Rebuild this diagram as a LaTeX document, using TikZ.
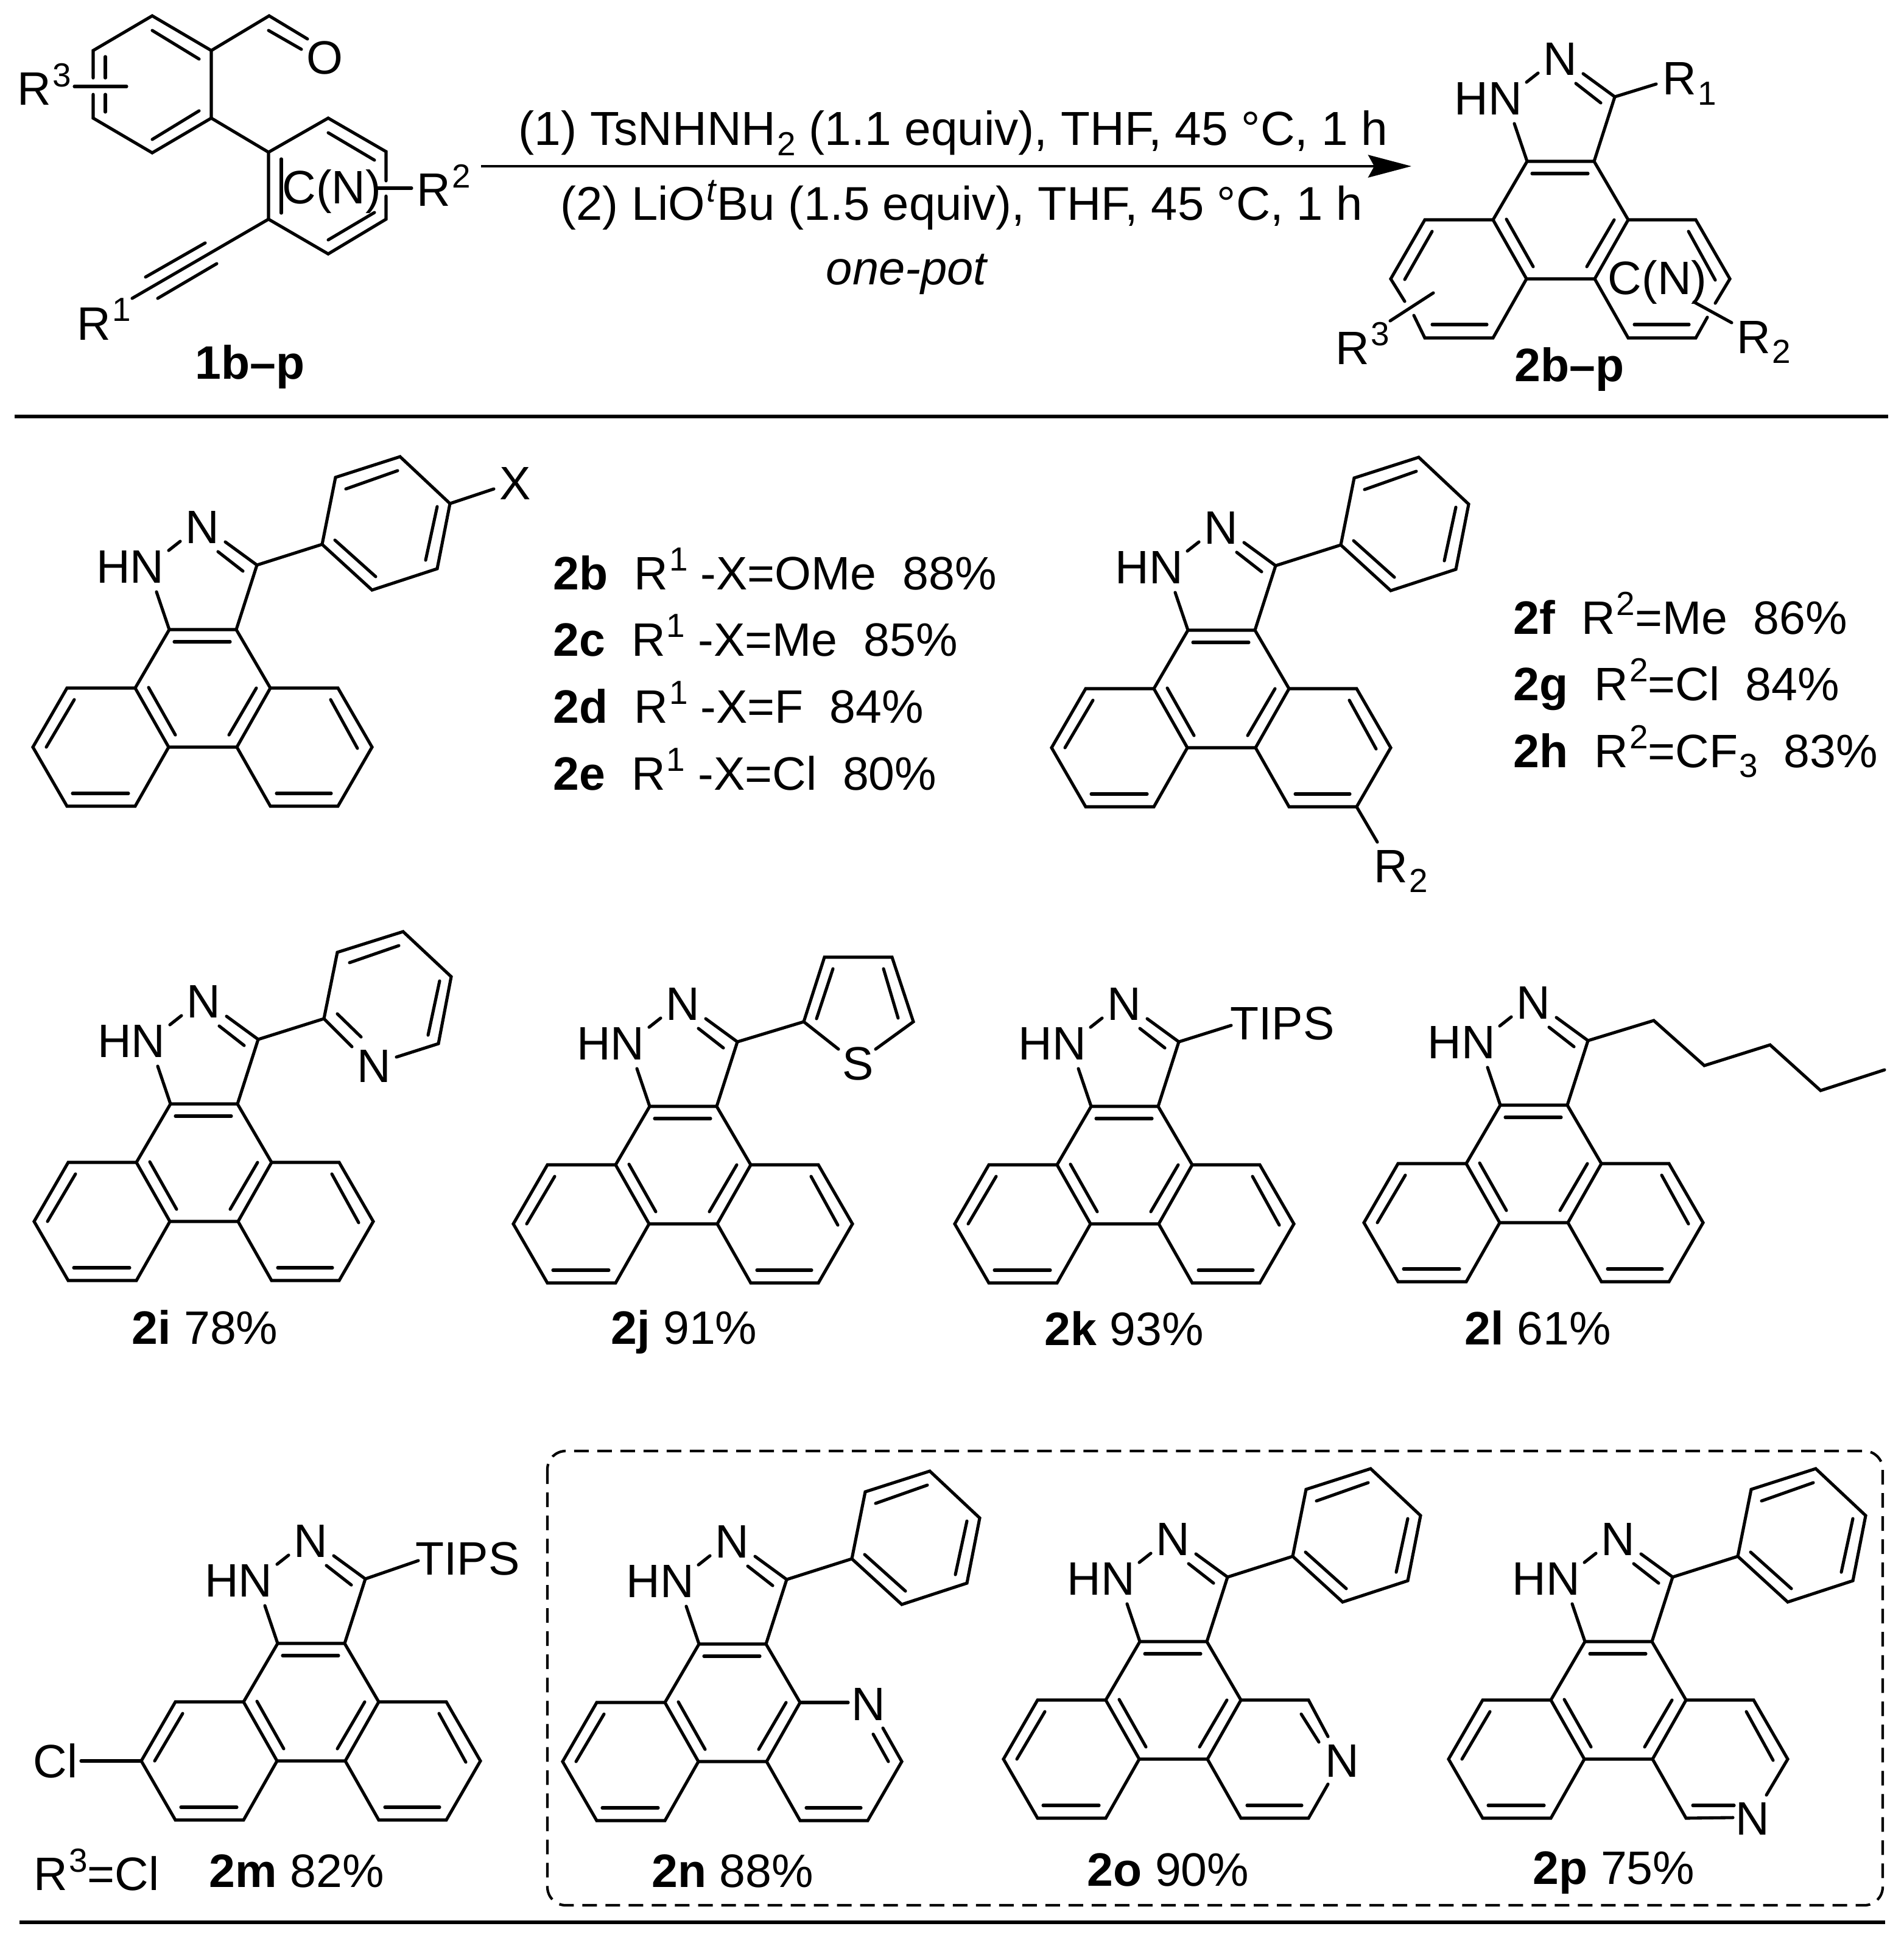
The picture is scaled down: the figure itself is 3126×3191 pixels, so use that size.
\documentclass[tikz,border=0pt]{standalone}
\usepackage{fontspec}
\setmainfont{Liberation Sans}
\usetikzlibrary{arrows.meta}
\newcommand{\chemfont}{\fontsize{21.9}{26}\selectfont}
\newcommand{\condfont}{\fontsize{22.3}{26}\selectfont}
\newcommand{\condfonttwo}{\fontsize{22.12}{26}\selectfont}
\newcommand{\rsup}[1]{\hspace{0.02cm}\raisebox{0.3cm}{\fontsize{15.6}{16}\selectfont #1}}
\newcommand{\rsub}[1]{\hspace{0.02cm}\raisebox{-0.16cm}{\fontsize{15.6}{16}\selectfont #1}}
\tikzset{
  bondline/.style={line width=1.45pt,line cap=round,line join=miter},
  rulebar/.style={line width=1.5pt},
  dashbox/.style={line width=1.2pt,dash pattern=on 0.24cm off 0.14cm,rounded corners=0.3cm},
  rxnarrow/.style={line width=1.3pt,-{Stealth[length=0.71cm,width=0.37cm,inset=0.1cm]}},
  every node/.style={font=\chemfont,inner sep=0pt},
  lbl/.style={anchor=base west},
  lblmid/.style={anchor=base}
}
\newcommand{\drawbond}{\draw[bondline]}
% middle ring and pyrazole
\newcommand{\pyrcore}[1]{
  \coordinate (ca) at (-55,0); \coordinate (cb) at (55,0);
  \coordinate (cc) at (-111,96); \coordinate (cd) at (111,96);
  \coordinate (ce) at (-56,193); \coordinate (cf) at (56,193);
  \coordinate (cg) at (-223,96); \coordinate (ch) at (-279,193);
  \coordinate (ci) at (-223,290); \coordinate (cj) at (-111,290);
  \coordinate (ck) at (222,96); \coordinate (cl) at (278,193);
  \coordinate (cm) at (222,290); \coordinate (cn) at (111,290);
  \coordinate (cthree) at (89,-106);
  \drawbond (cc)--(ca)--(cb)--(cd)--(cf)--(ce)--(cc)--cycle;
  \drawbond (-47,20)--(45,20);
  \drawbond (-89,95)--(-45,173);
  \drawbond (88,96)--(43,173);
  \drawbond (ca)--(-76,-62);
  \drawbond (-37,-145)--(-56,-130);
  \drawbond (37,-144)--(cthree)--(cb);
  \drawbond (25,-128)--(66,-96);
  \node (#1-N) at (-1,-168) {N};
  \node (#1-HN) at (-119,-103) {HN};
}
\newcommand{\leftring}{
  \drawbond (cc)--(cg)--(ch)--(ci)--(cj)--(ce);
  \drawbond (-211,115)--(-257,193);
  \drawbond (-214,269)--(-122,269);
}
\newcommand{\rightring}{
  \drawbond (cd)--(ck)--(cl)--(cm)--(cn)--(cf);
  \drawbond (210,115)--(254,195);
  \drawbond (121,269)--(211,269);
}
\newcommand{\phenylsub}{
  \drawbond (cthree)--(196,-140)--(218,-250)--(324,-284)--(406,-207)--(385,-100)--(278,-65)--(196,-140)--cycle;
  \drawbond (217,-147)--(284,-87);
  \drawbond (235,-231)--(320,-261);
  \drawbond (385,-202)--(366,-114);
}
\newcommand{\molecule}[4]{
  \begin{scope}[shift={(#2,#3)}]
    \pyrcore{#1}
    #4
  \end{scope}
}
\begin{document}
\begin{tikzpicture}[x=0.01cm,y=-0.01cm]
\useasboundingbox (0,0) rectangle (3126,3191);
% starting material
\drawbond (153,128)--(153,83)--(250,26)--(347,83)--(347,194)--(250,251)--(153,194)--(153,155);
\drawbond (250,50)--(327,97);
\drawbond (250,229)--(327,182);
\drawbond (173,93)--(173,128);
\drawbond (173,155)--(173,184);
\drawbond (122,142)--(208,142);
\drawbond (347,83)--(442,26)--(505,64);
\drawbond (441,50)--(495,81);
\node (smO) at (533,95) {O};
\drawbond (347,194)--(441,250)--(539,194)--(634,249)--(634,297);
\drawbond (634,322)--(634,360)--(539,417)--(441,360)--(441,250);
\drawbond (539,218)--(615,263);
\drawbond (539,394)--(615,349);
\drawbond (462,261)--(462,350);
\drawbond (620,309)--(676,309);
\drawbond (441,360)--(217,490);
\drawbond (337,399)--(239,455);
\drawbond (356,433)--(259,490);
\node[lbl] (smRthree) at (28,173) {R\rsup{3}};
\node[lblmid] (smCN) at (545,335) {C(N)};
\node[lbl] (smRtwo) at (684,339) {R\rsup{2}};
\node[lbl] (smRone) at (126,558) {R\rsup{1}};
\node[lbl] (smname) at (320,622) {\textbf{1b–p}};
% arrow and conditions
\coordinate (arrowtail) at (790,273);
\coordinate (arrowhead) at (2318,273);
\draw[rxnarrow] (arrowtail)--(arrowhead);
\node[lbl,font=\condfont] (condone) at (851,239) {(1) TsNHNH\rsub{2} (1.1 equiv), THF, 45 °C, 1 h};
\node[lbl,font=\condfonttwo] (condtwo) at (920,362) {(2) LiO\rsup{\textit{t}}Bu (1.5 equiv), THF, 45 °C, 1 h};
\node[lblmid,font=\condfonttwo] (condthree) at (1490,468) {\textit{one-pot}};
% product
\molecule{prod}{2563}{265}{
  \drawbond (cc)--(cg)--(ch)--(-256,230);
  \drawbond (-241,253)--(ci)--(cj)--(ce);
  \drawbond (-211,115)--(-256,194);
  \drawbond (-211,268)--(-121,268);
  \drawbond (-209,216)--(-280,262);
  \drawbond (cd)--(ck)--(cl)--(254,233);
  \drawbond (241,256)--(cm)--(cn)--(cf);
  \drawbond (210,115)--(254,195);
  \drawbond (121,268)--(211,268);
  \drawbond (219,231)--(281,265);
  \drawbond (cthree)--(157,-127);
  \node[lbl] (prodRone) at (167,-109) {R\rsub{1}};
  \node[lbl] (prodRthree) at (-370,333) {R\rsup{3}};
  \node[lbl] (prodRtwo) at (289,315) {R\rsub{2}};
  \node[lblmid] (prodCN) at (159,218) {C(N)};
}
\node[lbl] (prodname) at (2487,626) {\textbf{2b–p}};
\draw[rulebar] (24,684)--(3101,684);
% second row
\molecule{twob}{333}{1034}{
  \leftring\rightring\phenylsub
  \drawbond (406,-207)--(478,-231);
  \node (twob-X) at (513,-240) {X};
}
\molecule{twof}{2006}{1035}{
  \leftring\rightring\phenylsub
  \drawbond (cm)--(256,348);
  \node[lbl] (twof-R) at (250,414) {R\rsub{2}};
}
\node[lbl] (listb) at (908,968) {\textbf{2b}~~R\rsup{1} -X=OMe~~88\%};
\node[lbl] (listc) at (908,1077) {\textbf{2c}~~R\rsup{1} -X=Me~~85\%};
\node[lbl] (listd) at (908,1187) {\textbf{2d}~~R\rsup{1} -X=F~~84\%};
\node[lbl] (liste) at (908,1297) {\textbf{2e}~~R\rsup{1} -X=Cl~~80\%};
\node[lbl] (listf) at (2485,1041) {\textbf{2f}~~R\rsup{2}=Me~~86\%};
\node[lbl] (listg) at (2485,1150) {\textbf{2g}~~R\rsup{2}=Cl~~84\%};
\node[lbl] (listh) at (2485,1260) {\textbf{2h}~~R\rsup{2}=CF\rsub{3}~~83\%};
% third row
\molecule{twoi}{335}{1813}{
  \leftring\rightring
  \drawbond (cthree)--(197,-140)--(219,-249)--(327,-283)--(406,-209)--(385,-99)--(316,-77);
  \drawbond (197,-140)--(243,-94);
  \drawbond (219,-148)--(258,-110);
  \drawbond (239,-232)--(320,-260);
  \drawbond (387,-202)--(368,-113);
  \node (twoi-Npy) at (279,-62) {N};
}
\molecule{twoj}{1122}{1817}{
  \leftring\rightring
  \drawbond (cthree)--(198,-139)--(232,-245)--(343,-245)--(378,-139)--(316,-94);
  \drawbond (198,-139)--(255,-94);
  \drawbond (246,-226)--(219,-144);
  \drawbond (329,-226)--(353,-145);
  \node (twoj-S) at (287,-70) {S};
}
\molecule{twok}{1847}{1817}{
  \leftring\rightring
  \drawbond (cthree)--(175,-133);
  \node (twok-TIPS) at (259,-136) {TIPS};
}
\molecule{twol}{2519}{1815}{
  \leftring\rightring
  \drawbond (cthree)--(197,-139)--(280,-65)--(388,-99)--(471,-24)--(576,-58);
}
\node[lbl] (namei) at (216,2207) {\textbf{2i} 78\%};
\node[lbl] (namej) at (1003,2207) {\textbf{2j} 91\%};
\node[lbl] (namek) at (1715,2209) {\textbf{2k} 93\%};
\node[lbl] (namel) at (2405,2208) {\textbf{2l} 61\%};
% fourth row
\molecule{twom}{511}{2699}{
  \leftring\rightring
  \drawbond (cthree)--(176,-136);
  \node (twom-TIPS) at (257,-139) {TIPS};
  \drawbond (ch)--(-378,193);
  \node (twom-Cl) at (-420,193) {Cl};
}
\node[lbl] (nameRthree) at (55,3104) {R\rsup{3}=Cl};
\node[lbl] (namem) at (343,3099) {\textbf{2m} 82\%};
\draw[dashbox] (899,2383) rectangle (3092,3129);
\molecule{twon}{1203}{2700}{
  \leftring\phenylsub
  \drawbond (cd)--(190,96);
  \node (twon-Npy) at (223,99) {N};
  \drawbond (247,138)--(cl)--(cm)--(cn)--(cf);
  \drawbond (231,148)--(256,193);
  \drawbond (121,269)--(211,269);
}
\molecule{twoo}{1927}{2696}{
  \leftring\phenylsub
  \drawbond (cd)--(ck)--(254,156);
  \drawbond (210,119)--(239,165);
  \node (twoo-Npy) at (277,196) {N};
  \drawbond (254,234)--(cm)--(cn)--(cf);
  \drawbond (121,269)--(211,269);
}
\molecule{twop}{2658}{2696}{
  \leftring\phenylsub
  \drawbond (cd)--(ck)--(cl)--(243,252);
  \drawbond (210,115)--(254,195);
  \node (twop-Npy) at (220,291) {N};
  \drawbond (188,289)--(cn)--(cf);
  \drawbond (122,269)--(190,269);
}
\node[lbl] (namen) at (1070,3099) {\textbf{2n} 88\%};
\node[lbl] (nameo) at (1785,3097) {\textbf{2o} 90\%};
\node[lbl] (namep) at (2517,3094) {\textbf{2p} 75\%};
\draw[rulebar] (32,3157)--(3096,3157);
\end{tikzpicture}
\end{document}
